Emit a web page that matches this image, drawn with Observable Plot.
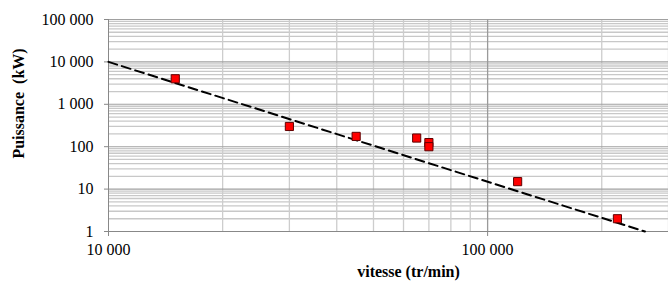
<!DOCTYPE html>
<html><head><meta charset="utf-8">
<script src="https://cdn.jsdelivr.net/npm/d3@7"></script>
<script src="https://cdn.jsdelivr.net/npm/@observablehq/plot@0.6"></script>
<style>body{margin:0;background:#fff}</style>
</head><body><div id="chart"></div>
<script>
const speeds = [15000, 30000, 45000, 65000, 70000, 70000, 120000, 220000];
const powers = [4000, 300, 175, 160, 125, 100, 15, 2];
const fitSpeeds = [10000, 260000];
const fitPowers = [10000, 1];
const xMajor = [10000, 100000];
const xMinor = [20000, 30000, 40000, 50000, 60000, 70000, 80000, 90000, 200000, 300000];
const yMajor = [1, 10, 100, 1000, 10000, 100000];
const yMinor = [2,3,4,5,6,7,8,9,20,30,40,50,60,70,80,90,200,300,400,500,600,700,800,900,2000,3000,4000,5000,6000,7000,8000,9000,20000,30000,40000,50000,60000,70000,80000,90000];
const xTitle = "vitesse (tr/min)";
const yTitle = "Puissance  (kW)";

const pts = speeds.map((s, i) => ({s, p: powers[i]}));
const fit = fitSpeeds.map((s, i) => ({s, p: fitPowers[i]}));
const fmt = v => d3.format(",")(v).replace(/,/g, " ");
const font = "Liberation Serif, Times New Roman, serif";

const chart = Plot.plot({
  width: 668, height: 287,
  marginLeft: 108, marginRight: 0, marginTop: 19, marginBottom: 56,
  style: {fontFamily: font, background: "#fff"},
  x: {type: "log", domain: [10000, 300000]},
  y: {type: "log", domain: [1, 100000]},
  marks: [
    Plot.ruleY(yMinor, {stroke: "#c8c8c8", strokeWidth: 1.3}),
    Plot.ruleX(xMinor, {stroke: "#cdcdcd", strokeWidth: 1.3}),
    Plot.ruleY(yMajor, {stroke: "#a0a0a0", strokeWidth: 1.1}),
    Plot.ruleX([100000], {stroke: "#9a9a9a", strokeWidth: 1.3}),
    Plot.ruleX([10000], {stroke: "#888", strokeWidth: 1}),
    Plot.ruleY([1], {stroke: "#888", strokeWidth: 1}),
    Plot.axisY({ticks: yMajor, tickFormat: fmt, tickSize: 4, tickPadding: 11, fontSize: 16, label: null, stroke: "#888", color: "#000"}),
    Plot.axisX({ticks: xMajor, tickFormat: fmt, tickSize: 5, tickPadding: 7, fontSize: 16, label: null, stroke: "#888", color: "#000"}),
    Plot.line(fit, {x: "s", y: "p", stroke: "#000", strokeWidth: 2, strokeDasharray: "9,5"}),
    Plot.dot(pts, {x: "s", y: "p", symbol: "square", r: 4.6, fill: "#ff0000", stroke: "#600000", strokeWidth: 1}),
    Plot.text([xTitle], {frameAnchor: "bottom", dx: 20, dy: 45, fontSize: 16, fontWeight: "bold", fill: "#000"}),
    Plot.text([yTitle], {frameAnchor: "left", textAnchor: "middle", dx: -90, dy: -22, rotate: -90, fontSize: 16, fontWeight: "bold", fill: "#000"})
  ]
});
document.getElementById("chart").appendChild(chart);
</script>
</body></html>
